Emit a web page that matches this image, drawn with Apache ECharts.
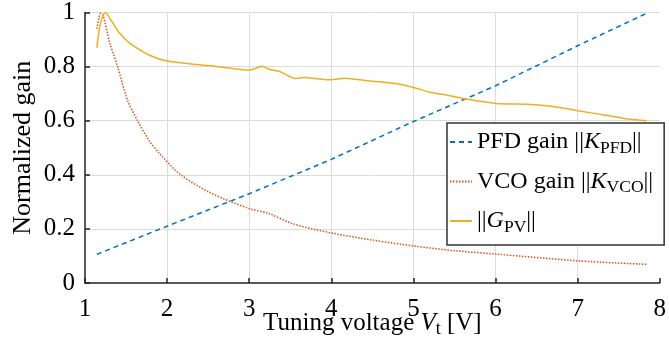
<!DOCTYPE html>
<html><head><meta charset="utf-8">
<script src="https://cdn.jsdelivr.net/npm/echarts@6/dist/echarts.min.js"></script>
<style>html,body{margin:0;padding:0;background:#fff}#c{width:669px;height:356px}</style>
</head><body><div id="c"></div>
<script>
const xTicks = [1, 2, 3, 4, 5, 6, 7, 8];
const yTicks = [0, 0.2, 0.4, 0.6, 0.8, 1];
const pfdX = [1.144, 2, 3, 4, 5, 6, 7, 7.84];
const pfdY = [0.106, 0.21, 0.33, 0.457, 0.597, 0.729, 0.877, 0.997];
const vcoX = [1.144, 1.17, 1.19, 1.22, 1.3, 1.40, 1.52, 1.64, 1.78, 1.91, 2.15, 2.51, 3.0, 3.24, 3.52, 4.0, 4.52, 5.0, 5.52, 6.0, 7.0, 7.84];
const vcoY = [0.94, 0.98, 0.997, 0.99, 0.89, 0.797, 0.674, 0.60, 0.527, 0.478, 0.404, 0.336, 0.275, 0.257, 0.22, 0.185, 0.158, 0.137, 0.119, 0.107, 0.082, 0.069];
const gpvX = [1.144, 1.18, 1.22, 1.25, 1.32, 1.40, 1.56, 1.80, 2.0, 2.44, 2.51, 3.0, 3.16, 3.24, 3.37, 3.56, 3.66, 4.0, 4.16, 4.44, 4.82, 5.0, 5.2, 5.4, 5.68, 6.0, 6.44, 6.68, 7.0, 7.36, 7.64, 7.84];
const gpvY = [0.87, 0.95, 0.99, 1.0, 0.97, 0.932, 0.883, 0.84, 0.821, 0.805, 0.804, 0.787, 0.801, 0.79, 0.782, 0.756, 0.76, 0.751, 0.757, 0.748, 0.736, 0.723, 0.705, 0.695, 0.678, 0.664, 0.66, 0.653, 0.637, 0.619, 0.605, 0.60];
const seriesNames = ['PFD gain ||K_PFD||', 'VCO gain ||K_VCO||', '||G_PV||'];
const legendRich = {
  'PFD gain ||K_PFD||': '{n|PFD gain ||}{i|K}{s|PFD}{n|||}',
  'VCO gain ||K_VCO||': '{n|VCO gain ||}{i|K}{s|VCO}{n|||}',
  '||G_PV||': '{n|||}{i|G}{s|PV}{n|||}'
};
const zip = (a, b) => a.map((v, i) => [v, b[i]]);
const FONT = 'Liberation Serif';
const rich = {
  n: {fontFamily: FONT, fontSize: 24, color: '#000', lineHeight: 30, verticalAlign: 'middle'},
  i: {fontFamily: FONT, fontSize: 24, color: '#000', fontStyle: 'italic', lineHeight: 30, verticalAlign: 'middle'},
  s: {fontFamily: FONT, fontSize: 17.5, color: '#000', lineHeight: 16, verticalAlign: 'bottom'}
};
const chart = echarts.init(document.getElementById('c'), null, {renderer: 'canvas'});
chart.setOption({
  animation: false,
  backgroundColor: '#fff',
  grid: {left: 84, right: 4, top: 11, bottom: 73, containLabel: false},
  xAxis: {
    type: 'value', min: 1, max: 8, interval: 1,
    name: 'Tuning voltage {i|V}{s|t} [V]',
    nameLocation: 'middle', nameGap: 25, nameMoveOverlap: false,
    nameTextStyle: {fontFamily: FONT, fontSize: 25, color: '#000', lineHeight: 30, rich: {
      i: {fontFamily: FONT, fontSize: 25, fontStyle: 'italic', color: '#000', lineHeight: 30},
      s: {fontFamily: FONT, fontSize: 18, color: '#000', lineHeight: 16, verticalAlign: 'bottom'}
    }},
    axisLine: {show: true, lineStyle: {color: '#222', width: 1.5}},
    axisTick: {show: true, inside: true, length: 5, lineStyle: {color: '#222', width: 1.5}},
    axisLabel: {fontFamily: FONT, fontSize: 25, color: '#000', margin: 14,
      formatter: v => xTicks.includes(v) ? String(v) : ''},
    splitLine: {show: true, showMinLine: false, showMaxLine: false, lineStyle: {color: '#dcdcdc', width: 1}}
  },
  yAxis: {
    type: 'value', min: 0, max: 1, interval: 0.2,
    name: 'Normalized gain', nameLocation: 'middle', nameGap: 47, nameMoveOverlap: false,
    nameTextStyle: {fontFamily: FONT, fontSize: 26, color: '#000', lineHeight: 30},
    axisLine: {show: true, lineStyle: {color: '#222', width: 1.5}},
    axisTick: {show: true, inside: true, length: 5, lineStyle: {color: '#222', width: 1.5}},
    axisLabel: {fontFamily: FONT, fontSize: 25, color: '#000', margin: 10,
      formatter: v => { const t = yTicks.find(y => Math.abs(y - v) < 1e-9); return t === undefined ? '' : String(t); }},
    splitLine: {show: true, showMinLine: false, lineStyle: {color: '#dcdcdc', width: 1}}
  },
  legend: {
    show: true, orient: 'vertical', left: 447, top: 123,
    backgroundColor: '#fff', borderColor: '#333', borderWidth: 1.5,
    padding: [7, 11, 9, 2], itemGap: 12.5, itemWidth: 22, itemHeight: 14,
    itemStyle: {opacity: 0},
    data: seriesNames,
    formatter: name => legendRich[name],
    textStyle: {fontFamily: FONT, fontSize: 24, color: '#000', rich: rich}
  },
  series: [
    {name: seriesNames[0], type: 'line', data: zip(pfdX, pfdY), showSymbol: false, symbol: 'none',
     lineStyle: {color: '#0072BD', width: 1.5, type: [5, 4]}, itemStyle: {color: '#0072BD'}},
    {name: seriesNames[1], type: 'line', data: zip(vcoX, vcoY), showSymbol: false, symbol: 'none', smooth: 0.3,
     lineStyle: {color: '#D95319', width: 1.5, type: [1.5, 1.5]}, itemStyle: {color: '#D95319'}},
    {name: seriesNames[2], type: 'line', data: zip(gpvX, gpvY), showSymbol: false, symbol: 'none', smooth: 0.2,
     lineStyle: {color: '#EDB120', width: 1.5}, itemStyle: {color: '#EDB120'}}
  ]
});
</script></body></html>
